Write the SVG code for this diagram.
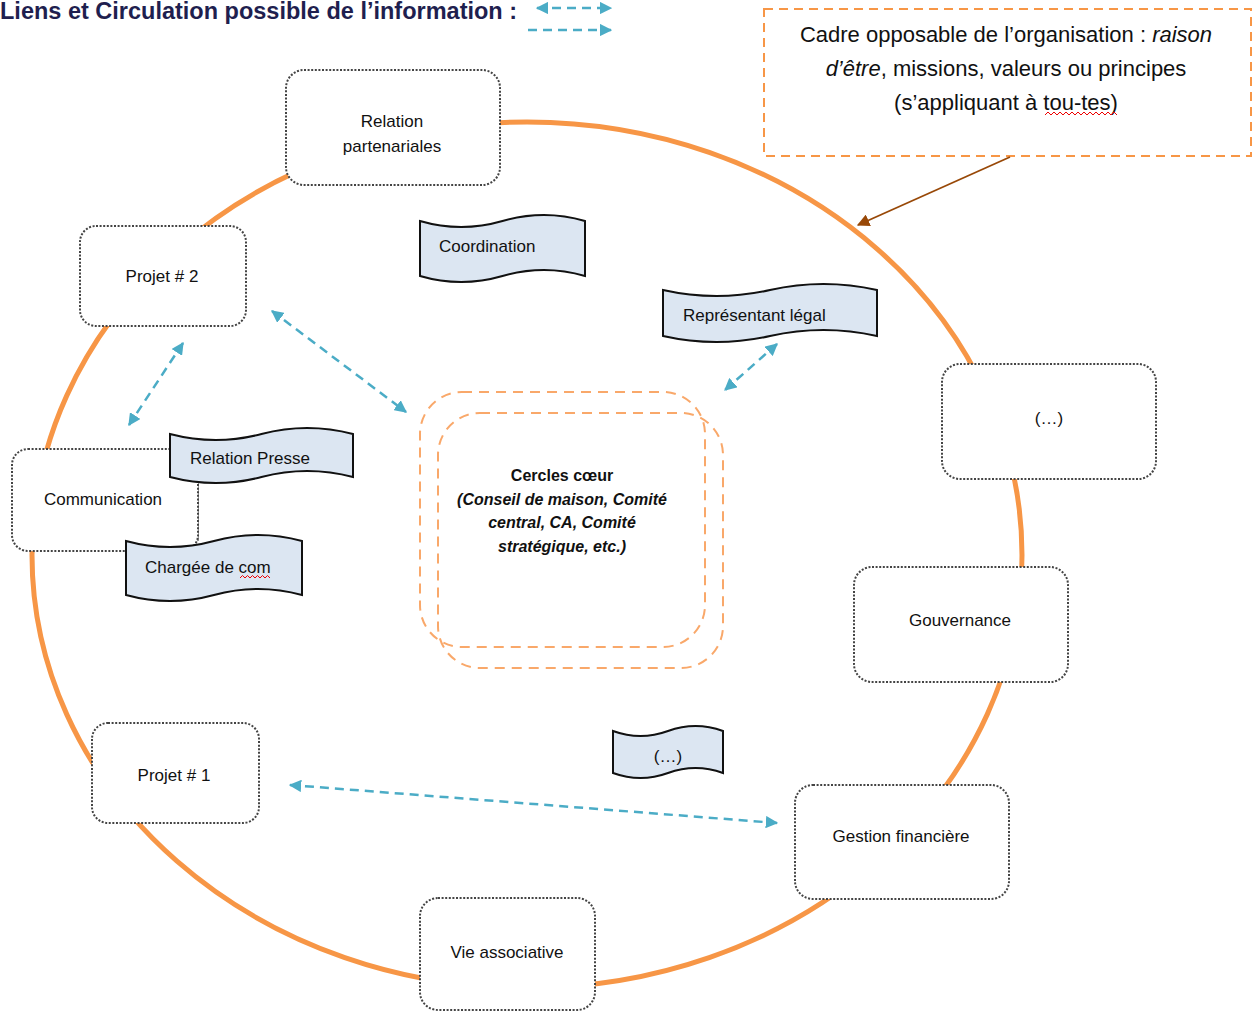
<svg xmlns="http://www.w3.org/2000/svg" width="1254" height="1012" viewBox="0 0 1254 1012">
<defs>
<marker id="blue" viewBox="0 0 10 10" refX="9" refY="5" markerWidth="5" markerHeight="5" orient="auto-start-reverse" markerUnits="strokeWidth">
<path d="M0,0 L10,5 L0,10 z" fill="#4BACC6"/>
</marker>
<marker id="brown" viewBox="0 0 10 10" refX="9" refY="5" markerWidth="7" markerHeight="7" orient="auto" markerUnits="strokeWidth">
<path d="M0,0 L10,5 L0,10 z" fill="#984807"/>
</marker>
<style>
.node{fill:#fff;stroke:#444;stroke-width:2;stroke-dasharray:2 1.6}
.wave{fill:#DCE6F2;stroke:#111;stroke-width:2}
.t{font-family:"Liberation Sans",Arial,sans-serif;font-size:17px;fill:#111}
.c{text-anchor:middle}
.blue{fill:none;stroke:#4BACC6;stroke-width:2.5;stroke-dasharray:9 6;marker-start:url(#blue);marker-end:url(#blue)}
.core{fill:none;stroke:#F9A86A;stroke-width:2;stroke-dasharray:10 7}
.sq{fill:none;stroke:#e00;stroke-width:1}
</style>
</defs>
<rect width="1254" height="1012" fill="#fff"/>

<ellipse cx="527" cy="555" rx="495" ry="433" fill="none" stroke="#F79646" stroke-width="5"/>

<g id="title">
<text x="0" y="19" font-family="Liberation Sans,Arial,sans-serif" font-size="23.5" font-weight="bold" fill="#1f1f4f">Liens et Circulation possible de l’information :</text>
</g>
<g id="legend">
<line x1="537" y1="8" x2="611" y2="8" class="blue"/>
<line x1="528" y1="30" x2="611" y2="30" class="blue" style="marker-start:none"/>
</g>

<g id="cadre">
<rect x="764" y="9" width="487" height="147" fill="#fff" stroke="#F79646" stroke-width="2" stroke-dasharray="9 6"/>
<text class="t c" x="1006" y="42" style="font-size:22px">Cadre opposable de l’organisation : <tspan font-style="italic">raison</tspan></text>
<text class="t c" x="1006" y="76" style="font-size:22px"><tspan font-style="italic">d’être</tspan>, missions, valeurs ou principes</text>
<text class="t c" x="1006" y="110" style="font-size:22px">(s’appliquant à  tou-tes)</text>
<path class="sq" d="M1045,115 l3,-3 l3,3 l3,-3 l3,3 l3,-3 l3,3 l3,-3 l3,3 l3,-3 l3,3 l3,-3 l3,3 l3,-3 l3,3 l3,-3 l3,3 l3,-3 l3,3 l3,-3 l3,3 l3,-3 l3,3 l3,-3 l3,3"/>
</g>

<g id="connectors">
<line x1="1010" y1="157" x2="858" y2="225" stroke="#984807" stroke-width="1.8" marker-end="url(#brown)"/>
<line x1="183" y1="343" x2="129" y2="425" class="blue"/>
<line x1="272" y1="311" x2="406" y2="412" class="blue"/>
<line x1="777" y1="344" x2="725" y2="390" class="blue"/>
<line x1="290" y1="785" x2="777" y2="823" class="blue"/>
<line x1="198" y1="478" x2="198" y2="541" stroke="#777" stroke-width="1.5"/>
</g>

<g id="relation-partenariales">
<rect class="node" x="286" y="70" width="214" height="115" rx="18"/>
<text class="t c" x="392" y="127">Relation</text>
<text class="t c" x="392" y="152">partenariales</text>
</g>
<g id="projet2">
<rect class="node" x="80" y="226" width="166" height="100" rx="16"/>
<text class="t c" x="162" y="282">Projet # 2</text>
</g>
<g id="communication">
<rect class="node" x="12" y="449" width="186" height="102" rx="16"/>
<text class="t c" x="103" y="505">Communication</text>
</g>
<g id="etc-right">
<rect class="node" x="942" y="364" width="214" height="115" rx="18"/>
<text class="t c" x="1049" y="424">(…)</text>
</g>
<g id="gouvernance">
<rect class="node" x="854" y="567" width="214" height="115" rx="18"/>
<text class="t c" x="960" y="626">Gouvernance</text>
</g>
<g id="projet1">
<rect class="node" x="92" y="723" width="167" height="100" rx="16"/>
<text class="t c" x="174" y="781">Projet # 1</text>
</g>
<g id="gestion-financiere">
<rect class="node" x="795" y="785" width="214" height="114" rx="18"/>
<text class="t c" x="901" y="842">Gestion financière</text>
</g>
<g id="vie-associative">
<rect class="node" x="420" y="898" width="175" height="112" rx="18"/>
<text class="t c" x="507" y="958">Vie associative</text>
</g>

<g id="cercles-coeur">
<rect class="core" x="420" y="392" width="285" height="255" rx="42"/>
<rect class="core" x="438" y="413" width="285" height="255" rx="42"/>
<text class="t c" x="562" y="481" style="font-size:16px;font-weight:bold">Cercles cœur</text>
<text class="t c" x="562" y="505" style="font-size:16px;font-weight:bold;font-style:italic">(Conseil de maison, Comité</text>
<text class="t c" x="562" y="528" style="font-size:16px;font-weight:bold;font-style:italic">central, CA, Comité</text>
<text class="t c" x="562" y="552" style="font-size:16px;font-weight:bold;font-style:italic">stratégique, etc.)</text>
</g>

<g id="coordination">
<path class="wave" d="M420,221 Q461,233 502.5,221 Q544,209 585,221 L585,276 Q544,264 502.5,276 Q461,288 420,276 Z"/>
<text class="t" x="439" y="252">Coordination</text>
</g>
<g id="representant-legal">
<path class="wave" d="M663,290 Q716.5,302 770,290 Q823.5,278 877,290 L877,336 Q823.5,324 770,336 Q716.5,348 663,336 Z"/>
<text class="t" x="683" y="321">Représentant légal</text>
</g>
<g id="relation-presse">
<path class="wave" d="M170,434 Q215.75,446 261.5,434 Q307.25,422 353,434 L353,477 Q307.25,465 261.5,477 Q215.75,489 170,477 Z"/>
<text class="t" x="190" y="464">Relation Presse</text>
</g>
<g id="chargee-de-com">
<path class="wave" d="M126,541 Q170,553 214,541 Q258,529 302,541 L302,595 Q258,583 214,595 Q170,607 126,595 Z"/>
<text class="t" x="145" y="573">Chargée de com</text>
<path class="sq" d="M240,578 l2.5,-2.5 l2.5,2.5 l2.5,-2.5 l2.5,2.5 l2.5,-2.5 l2.5,2.5 l2.5,-2.5 l2.5,2.5 l2.5,-2.5 l2.5,2.5 l2.5,-2.5 l2.5,2.5"/>
</g>
<g id="etc-center">
<path class="wave" d="M613,731 Q640.5,741 668,731 Q695.5,721 723,731 L723,773 Q695.5,763 668,773 Q640.5,783 613,773 Z"/>
<text class="t c" x="668" y="762">(…)</text>
</g>
</svg>
